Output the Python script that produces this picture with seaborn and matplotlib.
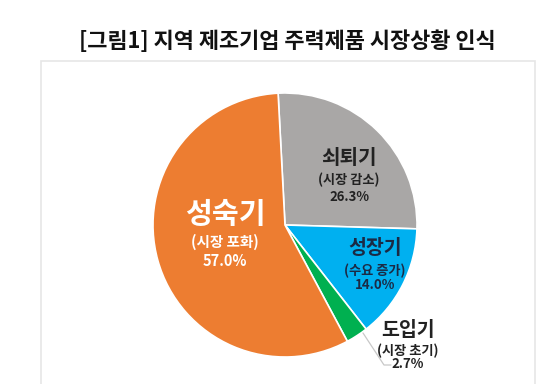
import matplotlib
matplotlib.use("Agg")
import matplotlib.pyplot as plt
import seaborn as sns
from matplotlib.patches import Rectangle

# ---- data ----
stages = ["쇠퇴기", "성장기", "도입기", "성숙기"]
subtitles = ["(시장 감소)", "(수요 증가)", "(시장 초기)", "(시장 포화)"]
shares = [26.3, 14.0, 2.7, 57.0]
title = "[그림1] 지역 제조기업 주력제품 시장상황 인식"

sns.set_theme(style="white")
plt.rcParams['font.family'] = ['Noto Sans CJK KR', 'DejaVu Sans']

colors = ["#A9A7A6", "#00B0F0", "#00B050", "#ED7D31"]

W, H = 549, 384
fig = plt.figure(figsize=(W / 100, H / 100), dpi=100)
fig.patch.set_facecolor("white")

# framed box
fig.patches.append(Rectangle((41 / W, -0.05), (535 - 41) / W, 1.05 - 61 / H,
                             transform=fig.transFigure, fill=False,
                             edgecolor="#E6E6E6", linewidth=1.2))

fig.text(287 / W, 1 - 41 / H, title, ha="center", va="center",
         fontsize=15.8, fontweight="bold", color="#111111")

cx, cy, r = 285, 225, 132
ax = fig.add_axes([(cx - r) / W, (H - cy - r) / H, 2 * r / W, 2 * r / H])
ax.pie(shares, colors=colors, startangle=93, counterclock=False,
       wedgeprops=dict(edgecolor="white", linewidth=1.2), radius=1.0)
ax.set_xlim(-1, 1)
ax.set_ylim(-1, 1)
ax.set_aspect("equal")
ax.axis("off")


def P(px, py):
    return ((px - cx) / r, (cy - py) / r)


def label(i, pos, fs_main, fs_sub, fs_pct, color, dy1, dy2):
    x, y = P(*pos)
    ax.text(x, y, stages[i], ha="center", va="center", fontsize=fs_main,
            fontweight="bold", color=color)
    x1, y1 = P(pos[0], pos[1] + dy1)
    ax.text(x1, y1, subtitles[i], ha="center", va="center", fontsize=fs_sub,
            fontweight="bold", color=color)
    x2, y2 = P(pos[0], pos[1] + dy2)
    ax.text(x2, y2, f"{shares[i]:.1f}%", ha="center", va="center",
            fontsize=fs_pct, fontweight="bold", color=color)


label(3, (225, 214), 21, 10.5, 10.5, "white", 28, 47)
label(0, (349, 157), 14.5, 9.5, 9.5, "#222222", 23, 40)
label(1, (375, 249), 14, 9.5, 9.5, "#1B2A45", 22, 36)
label(2, (408, 331), 14, 9.5, 9.5, "#222222", 20, 33)

# leader line for the small slice
lx0, ly0 = P(363, 333)
lx1, ly1 = P(384, 365)
lx2, ly2 = P(391, 365)
ax.plot([lx0, lx1, lx2], [ly0, ly1, ly2], color="#C8C8C8", lw=0.9,
        clip_on=False)

fig.savefig("out.png", dpi=100, facecolor="white")
